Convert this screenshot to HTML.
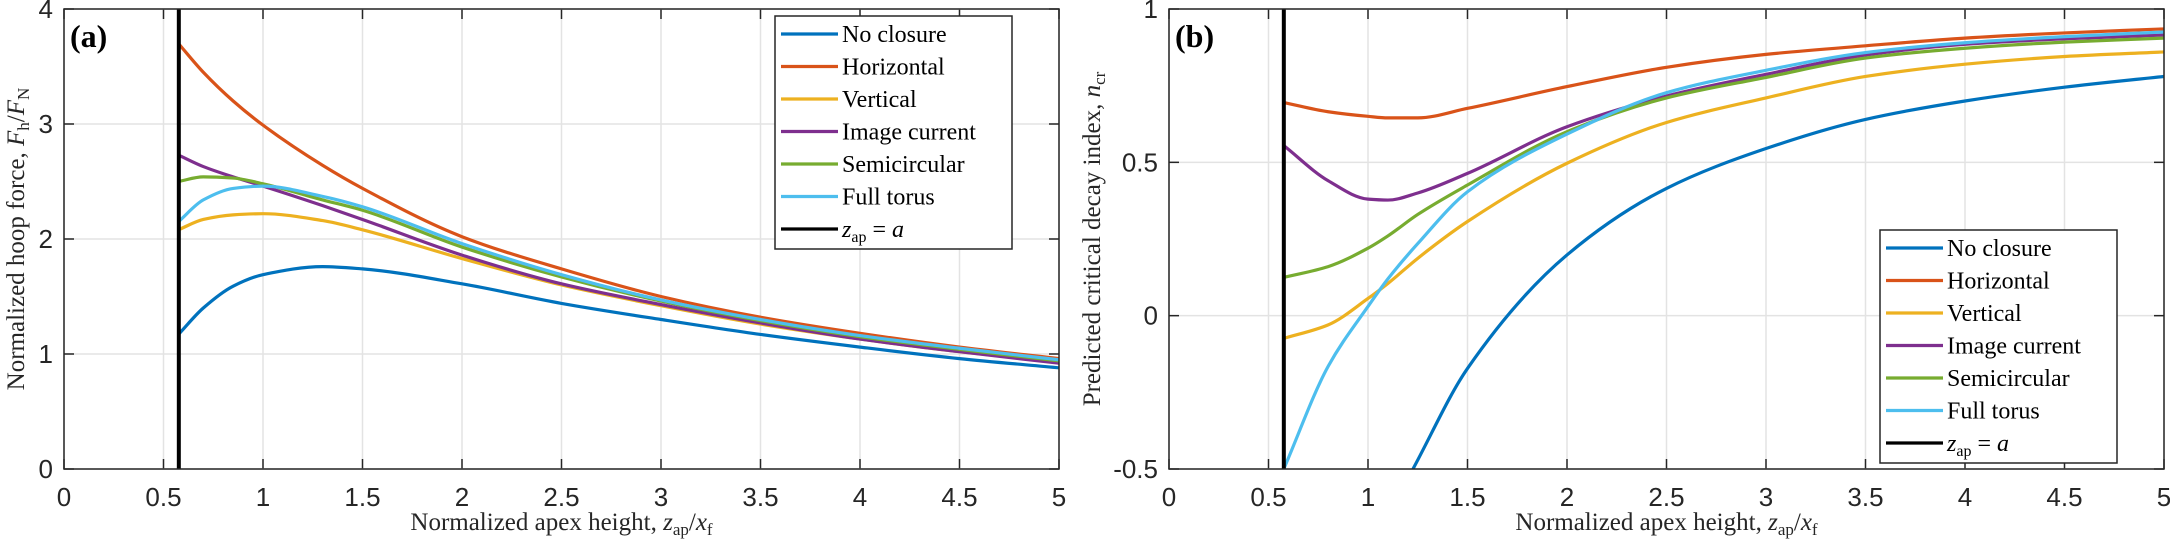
<!DOCTYPE html>
<html><head><meta charset="utf-8">
<style>
html,body{margin:0;padding:0;background:#fff;}
svg{display:block;}
.tick{font-family:"Liberation Sans",sans-serif;font-size:26px;fill:#262626;}
.lab{font-family:"Liberation Serif",serif;font-size:25px;fill:#262626;}
.leg{font-family:"Liberation Serif",serif;font-size:24px;fill:#000;}
.pl{font-family:"Liberation Serif",serif;font-size:32px;font-weight:bold;fill:#000;}
</style></head>
<body>
<svg id="chart" width="2170" height="548" viewBox="0 0 2170 548" xmlns="http://www.w3.org/2000/svg"></svg>
<script>
const seriesNames = ["No closure","Horizontal","Vertical","Image current","Semicircular","Full torus"];
const seriesColors = ["#0072BD","#D95319","#EDB120","#7E2F8E","#77AC30","#4DBEEE"];
const aX = [0.575,0.7,0.85,1,1.3,1.5,2,2.5,3,3.5,4,4.5,5];
const aNoClosure   = [1.17,1.40,1.59,1.69,1.76,1.74,1.61,1.44,1.30,1.17,1.06,0.96,0.88];
const aHorizontal  = [3.70,3.45,3.20,2.99,2.64,2.44,2.02,1.74,1.50,1.32,1.18,1.06,0.96];
const aVertical    = [2.08,2.17,2.21,2.22,2.16,2.08,1.83,1.60,1.42,1.26,1.13,1.02,0.93];
const aImage       = [2.73,2.63,2.54,2.46,2.29,2.17,1.86,1.61,1.43,1.27,1.13,1.02,0.92];
const aSemi        = [2.50,2.54,2.53,2.48,2.34,2.25,1.93,1.67,1.46,1.29,1.15,1.04,0.94];
const aTorus       = [2.15,2.34,2.44,2.46,2.37,2.28,1.96,1.69,1.47,1.30,1.16,1.05,0.95];
const bX = [0.578,0.8,1,1.1,1.25,1.5,2,2.5,3,3.5,4,4.5,5];
const bBlueX = [1.226,1.5,2,2.5,3,3.5,4,4.5,5];
const bNoClosure   = [-0.5,-0.172,0.198,0.415,0.545,0.64,0.70,0.745,0.78];
const bHorizontal  = [0.695,0.665,0.65,0.645,0.645,0.676,0.747,0.81,0.852,0.88,0.905,0.922,0.935];
const bVertical    = [-0.074,-0.03,0.056,0.105,0.187,0.307,0.497,0.63,0.71,0.78,0.82,0.845,0.86];
const bImage       = [0.554,0.44,0.38,0.377,0.40,0.464,0.616,0.716,0.787,0.85,0.885,0.903,0.915];
const bSemi        = [0.125,0.16,0.22,0.26,0.33,0.426,0.60,0.71,0.777,0.84,0.872,0.892,0.905];
const bTorus       = [-0.498,-0.165,0.03,0.12,0.235,0.404,0.592,0.727,0.80,0.858,0.89,0.91,0.925];
const aYTicks = [0,1,2,3,4];
const bYTicks = [-0.5,0,0.5,1];
const bYTickLabels = ["-0.5","0","0.5","1"];
const xTicks = [0,0.5,1,1.5,2,2.5,3,3.5,4,4.5,5];
const xTickLabels = ["0","0.5","1","1.5","2","2.5","3","3.5","4","4.5","5"];
const apexA = 0.577;

const NS="http://www.w3.org/2000/svg";
const svg=document.getElementById('chart');
function mk(tag,attrs,parent){const e=document.createElementNS(NS,tag);for(const k in attrs)e.setAttribute(k,attrs[k]);(parent||svg).appendChild(e);return e;}
function smooth(pts){const n=pts.length;const dx=[],m=[],t=new Array(n);
 for(let i=0;i<n-1;i++){dx[i]=pts[i+1][0]-pts[i][0];m[i]=(pts[i+1][1]-pts[i][1])/dx[i];}
 t[0]=m[0];t[n-1]=m[n-2];
 for(let i=1;i<n-1;i++){if(m[i-1]*m[i]<=0)t[i]=0;else{const w1=2*dx[i]+dx[i-1],w2=dx[i]+2*dx[i-1];t[i]=(w1+w2)/(w1/m[i-1]+w2/m[i]);}}
 let d="M"+pts[0][0].toFixed(2)+","+pts[0][1].toFixed(2);
 for(let i=0;i<n-1;i++){const h=dx[i]/3;
  d+=" C"+(pts[i][0]+h).toFixed(2)+","+(pts[i][1]+h*t[i]).toFixed(2)+" "+(pts[i+1][0]-h).toFixed(2)+","+(pts[i+1][1]-h*t[i+1]).toFixed(2)+" "+pts[i+1][0].toFixed(2)+","+pts[i+1][1].toFixed(2);}
 return d;}

function panel(cfg){
 const g=mk('g',{});
 
 
 const L=cfg.L,R=cfg.R,T=9,B=469;
 const sx=v=>L+(v-0)/5*(R-L);
 const sy=v=>B-(v-cfg.ymin)/(cfg.ymax-cfg.ymin)*(B-T);
 xTicks.forEach((t,i)=>{const x=sx(t);
  const gl=mk('line',{x1:x,x2:x,y1:T,y2:B,stroke:'#e3e3e3','stroke-width':1.5},g);
  
  mk('line',{x1:x,x2:x,y1:B,y2:B-10,stroke:'#262626','stroke-width':1.5},g);
  mk('line',{x1:x,x2:x,y1:T,y2:T+10,stroke:'#262626','stroke-width':1.5},g);
  const tl=mk('text',{x:x,y:B+37,'text-anchor':'middle',class:'tick'},g);tl.textContent=xTickLabels[i];
  });
 cfg.yt.forEach((t,i)=>{const y=sy(t);
  const gl=mk('line',{x1:L,x2:R,y1:y,y2:y,stroke:'#e3e3e3','stroke-width':1.5},g);
  
  mk('line',{x1:L,x2:L+10,y1:y,y2:y,stroke:'#262626','stroke-width':1.5},g);
  mk('line',{x1:R,x2:R-10,y1:y,y2:y,stroke:'#262626','stroke-width':1.5},g);
  const tl=mk('text',{x:L-11,y:y+9,'text-anchor':'end',class:'tick'},g);tl.textContent=cfg.ytl[i];
  });
 const cp=mk('clipPath',{id:cfg.name+'-clip'},g);mk('rect',{x:L,y:T,width:R-L,height:B-T},cp);
 const cg=mk('g',{'clip-path':'url(#'+cfg.name+'-clip)'},g);
 cfg.series.forEach((s,i)=>{const xs=s.x,ys=s.y;const pts=xs.map((v,j)=>[sx(v),sy(ys[j])]);
  const p=mk('path',{d:smooth(pts),fill:'none',stroke:seriesColors[i],'stroke-width':3.2,'stroke-linejoin':'round'},cg);
  
  });
 const ap=mk('line',{x1:sx(apexA),x2:sx(apexA),y1:T,y2:B,stroke:'#000','stroke-width':4},cg);
 
 const bx=mk('rect',{x:L,y:T,width:R-L,height:B-T,fill:'none',stroke:'#262626','stroke-width':1.5},g);
 
 const pl=mk('text',{x:L+6,y:T+38,class:'pl'},g);pl.textContent=cfg.letter;
 
 const xl=mk('text',{x:(L+R)/2,y:530,'text-anchor':'middle',class:'lab'},g);
 xl.innerHTML='Normalized apex height, <tspan font-style="italic">z</tspan><tspan font-size="17" dy="5">ap</tspan><tspan dy="-5">/</tspan><tspan font-style="italic">x</tspan><tspan font-size="17" dy="5">f</tspan>';
 
 const yl=mk('text',{x:0,y:0,'text-anchor':'middle',class:'lab',transform:'translate('+cfg.ylx+','+(T+B)/2+') rotate(-90)'},g);
 yl.innerHTML=cfg.ylab;
 
 const lg=mk('g',{},g);
 mk('rect',{x:cfg.lx,y:cfg.ly,width:237,height:233,fill:'#fff',stroke:'#262626','stroke-width':1.5},lg);
 const names=seriesNames.concat(['apex']);const cols=seriesColors.concat(['#000']);
 names.forEach((n,i)=>{const y=cfg.ly+18+i*32.5;
  const e=mk('g',{},lg);
  mk('line',{x1:cfg.lx+6,x2:cfg.lx+63,y1:y,y2:y,stroke:cols[i],'stroke-width':3.2},e);
  const t=mk('text',{x:cfg.lx+67,y:y+8,class:'leg'},e);
  if(n==='apex')t.innerHTML='<tspan font-style="italic">z</tspan><tspan font-size="16" dy="5">ap</tspan><tspan dy="-5"> = </tspan><tspan font-style="italic">a</tspan>';
  else t.textContent=n;});
}
panel({name:'panel-a',letter:'(a)',L:64,R:1059,ymin:0,ymax:4,yt:aYTicks,ytl:aYTicks.map(String),ylx:24,
 ylab:'Normalized hoop force, <tspan font-style="italic">F</tspan><tspan font-size="17" dy="5">h</tspan><tspan dy="-5">/</tspan><tspan font-style="italic">F</tspan><tspan font-size="17" dy="5">N</tspan>',
 lx:775,ly:16,
 series:[{x:aX,y:aNoClosure},{x:aX,y:aHorizontal},{x:aX,y:aVertical},{x:aX,y:aImage},{x:aX,y:aSemi},{x:aX,y:aTorus}]});
panel({name:'panel-b',letter:'(b)',L:1169,R:2164,ymin:-0.5,ymax:1,yt:bYTicks,ytl:bYTickLabels,ylx:1100,
 ylab:'Predicted critical decay index, <tspan font-style="italic">n</tspan><tspan font-size="17" dy="5">cr</tspan>',
 lx:1880,ly:230,
 series:[{x:bBlueX,y:bNoClosure},{x:bX,y:bHorizontal},{x:bX,y:bVertical},{x:bX,y:bImage},{x:bX,y:bSemi},{x:bX,y:bTorus}]});
</script>
</body></html>
